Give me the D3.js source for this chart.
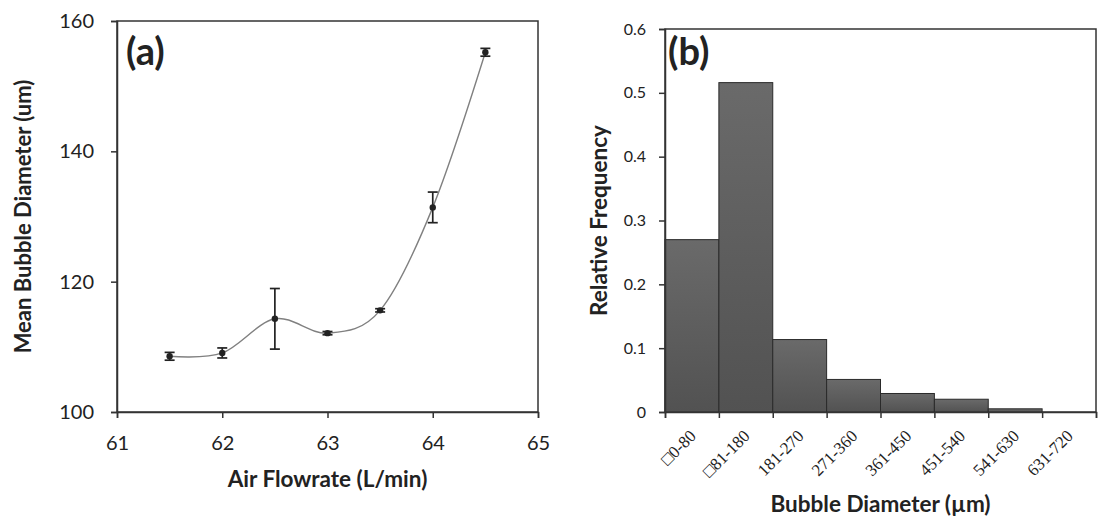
<!DOCTYPE html>
<html>
<head>
<meta charset="utf-8">
<script src="https://cdn.jsdelivr.net/npm/d3@7"></script>
<style>
  body { margin: 0; background: #fff; }
  text { fill: #222; }
</style>
</head>
<body>
<script>
// panel (a) data
var flowrate = [61.5, 62, 62.5, 63, 63.5, 64, 64.5];
var meanDiameter = [108.55, 109.06, 114.3, 112.1, 115.6, 131.4, 155.2];
var diameterErr = [0.6, 0.77, 4.65, 0.25, 0.25, 2.35, 0.6];
var xTicksA = [61, 62, 63, 64, 65];
var yTicksA = [100, 120, 140, 160];

// panel (b) data
var bins = ["\u25A10-80", "\u25A181-180", "181-270", "271-360", "361-450", "451-540", "541-630", "631-720"];
var relFreq = [0.270, 0.516, 0.1135, 0.051, 0.029, 0.020, 0.005, 0];
var yTicksB = [0, 0.1, 0.2, 0.3, 0.4, 0.5, 0.6];

var w = 1103, h = 521;
var sansFont = "Lato, 'Open Sans', sans-serif";

var svg = d3.select("body").append("svg")
    .attr("width", w)
    .attr("height", h);

// gradient for the bars
var defs = svg.append("defs");
var grad = defs.append("linearGradient")
    .attr("id", "barGrad")
    .attr("x1", 0).attr("y1", 0).attr("x2", 0).attr("y2", 1);
grad.append("stop").attr("offset", "0%").attr("stop-color", "#6a6a6a");
grad.append("stop").attr("offset", "100%").attr("stop-color", "#525252");

function styleAxis(g) {
    g.select(".domain").attr("stroke", "#333").attr("stroke-width", 1.5);
    g.selectAll(".tick line").attr("stroke", "#333").attr("stroke-width", 1.5);
}

// ---------- panel (a) ----------
var a = { left: 117, top: 21, right: 538, bottom: 412 };

var xA = d3.scaleLinear().domain([61, 65]).range([a.left, a.right]);
var yA = d3.scaleLinear().domain([100, 160]).range([a.bottom, a.top]);

// frame
svg.append("rect")
    .attr("x", a.left).attr("y", a.top)
    .attr("width", a.right - a.left).attr("height", a.bottom - a.top)
    .attr("fill", "none").attr("stroke", "#333").attr("stroke-width", 1.5);

var gxA = svg.append("g")
    .attr("transform", "translate(0," + a.bottom + ")")
    .call(d3.axisBottom(xA).tickValues(xTicksA).tickSize(6).tickPadding(18).tickFormat(d3.format("d")));
styleAxis(gxA);
gxA.selectAll("text").attr("font-family", sansFont).attr("font-size", 20);

var gyA = svg.append("g")
    .attr("transform", "translate(" + a.left + ",0)")
    .call(d3.axisLeft(yA).tickValues(yTicksA).tickSize(6).tickPadding(17).tickFormat(d3.format("d")));
styleAxis(gyA);
gyA.selectAll("text").attr("font-family", sansFont).attr("font-size", 20);

var ptsA = flowrate.map(function(f, i) {
    return { x: f, y: meanDiameter[i], e: diameterErr[i] };
});

// smooth line
var line = d3.line()
    .x(function(d) { return xA(d.x); })
    .y(function(d) { return yA(d.y); })
    .curve(d3.curveCardinal.tension(0));

svg.append("path")
    .datum(ptsA)
    .attr("d", line)
    .attr("fill", "none")
    .attr("stroke", "#808080")
    .attr("stroke-width", 1.4);

// error bars
var eb = svg.append("g").attr("stroke", "#222").attr("stroke-width", 1.7);
ptsA.forEach(function(d) {
    var cx = xA(d.x);
    eb.append("line")
        .attr("x1", cx).attr("x2", cx)
        .attr("y1", yA(d.y - d.e)).attr("y2", yA(d.y + d.e));
    eb.append("line")
        .attr("x1", cx - 5).attr("x2", cx + 5)
        .attr("y1", yA(d.y + d.e)).attr("y2", yA(d.y + d.e));
    eb.append("line")
        .attr("x1", cx - 5).attr("x2", cx + 5)
        .attr("y1", yA(d.y - d.e)).attr("y2", yA(d.y - d.e));
});

// markers
svg.selectAll("circle.pt")
    .data(ptsA)
    .enter()
    .append("circle")
    .attr("class", "pt")
    .attr("cx", function(d) { return xA(d.x); })
    .attr("cy", function(d) { return yA(d.y); })
    .attr("r", 3.2)
    .attr("fill", "#222");

svg.append("text")
    .attr("x", 126).attr("y", 65)
    .attr("font-family", sansFont).attr("font-weight", "bold").attr("font-size", 38)
    .text("(a)");

svg.append("text")
    .attr("transform", "translate(31," + ((a.top + a.bottom) / 2) + ") rotate(-90)")
    .attr("text-anchor", "middle")
    .attr("font-family", sansFont).attr("font-weight", "bold").attr("font-size", 22)
    .text("Mean Bubble Diameter (um)");

svg.append("text")
    .attr("x", (a.left + a.right) / 2).attr("y", 487)
    .attr("text-anchor", "middle")
    .attr("font-family", sansFont).attr("font-weight", "bold").attr("font-size", 22.5)
    .text("Air Flowrate (L/min)");

// ---------- panel (b) ----------
var b = { left: 665, top: 29, right: 1096, bottom: 412 };

var xB = d3.scaleBand().domain(bins).range([b.left, b.right]).padding(0);
var xEdge = d3.scaleLinear().domain([0, bins.length]).range([b.left, b.right]);
var yB = d3.scaleLinear().domain([0, 0.6]).range([b.bottom, b.top]);

svg.append("rect")
    .attr("x", b.left).attr("y", b.top)
    .attr("width", b.right - b.left).attr("height", b.bottom - b.top)
    .attr("fill", "none").attr("stroke", "#333").attr("stroke-width", 1.5);

svg.selectAll("rect.bar")
    .data(relFreq)
    .enter()
    .append("rect")
    .attr("class", "bar")
    .attr("x", function(d, i) { return xB(bins[i]); })
    .attr("y", function(d) { return yB(d); })
    .attr("width", xB.bandwidth())
    .attr("height", function(d) { return yB(0) - yB(d); })
    .attr("fill", "url(#barGrad)")
    .attr("stroke", "#2a2a2a")
    .attr("stroke-width", 1);

// boundary ticks
var gEdge = svg.append("g")
    .attr("transform", "translate(0," + b.bottom + ")")
    .call(d3.axisBottom(xEdge).tickValues(d3.range(0, bins.length + 1)).tickSize(6).tickFormat(""));
styleAxis(gEdge);

// category labels
var gxB = svg.append("g")
    .attr("transform", "translate(0," + b.bottom + ")")
    .call(d3.axisBottom(xB).tickSize(0));
gxB.select(".domain").remove();
gxB.selectAll("text")
    .attr("font-family", "'Liberation Serif', 'DejaVu Serif', serif")
    .attr("font-size", 17)
    .attr("fill", "#333")
    .attr("text-anchor", "end")
    .attr("dy", null)
    .attr("y", 0)
    .attr("transform", "translate(5,25) rotate(-45)");

var gyB = svg.append("g")
    .attr("transform", "translate(" + b.left + ",0)")
    .call(d3.axisLeft(yB).tickValues(yTicksB).tickSize(6).tickPadding(13).tickFormat(function(d) { return d === 0 ? "0" : d3.format(".1f")(d); }));
styleAxis(gyB);
gyB.selectAll("text").attr("font-family", sansFont).attr("font-size", 16);

svg.append("text")
    .attr("x", 668).attr("y", 65)
    .attr("font-family", sansFont).attr("font-weight", "bold").attr("font-size", 38)
    .text("(b)");

svg.append("text")
    .attr("transform", "translate(607," + ((b.top + b.bottom) / 2) + ") rotate(-90)")
    .attr("text-anchor", "middle")
    .attr("font-family", sansFont).attr("font-weight", "bold").attr("font-size", 22.5)
    .text("Relative Frequency");

svg.append("text")
    .attr("x", (b.left + b.right) / 2).attr("y", 512)
    .attr("text-anchor", "middle")
    .attr("font-family", sansFont).attr("font-weight", "bold").attr("font-size", 22.5)
    .text("Bubble Diameter (\u00B5m)");
</script>
</body>
</html>
